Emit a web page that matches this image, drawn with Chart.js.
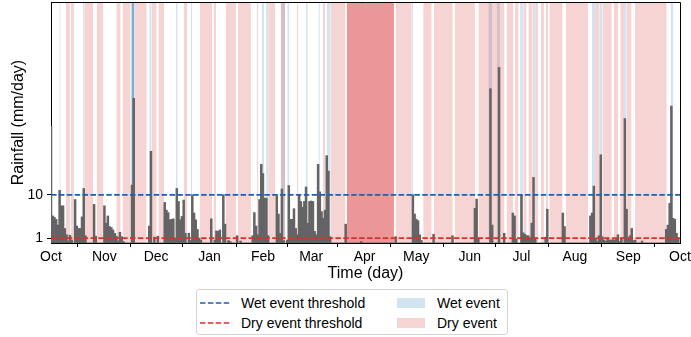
<!DOCTYPE html>
<html>
<head>
<meta charset="utf-8">
<script src="https://cdn.jsdelivr.net/npm/chart.js@4/dist/chart.umd.min.js"></script>
<style>
html,body{margin:0;padding:0;background:#fff;}
#wrap{position:relative;width:691px;height:337px;font-family:"Liberation Sans",Arial,sans-serif;overflow:hidden;}
#c{position:absolute;left:0;top:0;}
#legend{position:absolute;left:196px;top:289px;width:312px;height:46px;border:1px solid #d4d4d4;border-radius:3px;box-sizing:border-box;background:#fff;font-size:14px;color:#000;}
#legend .t{position:absolute;line-height:16px;white-space:nowrap;}
#legend svg{position:absolute;}
#legend .p{position:absolute;width:28px;height:10px;}
</style>
</head>
<body>
<div id="wrap">
<canvas id="c" width="691" height="337"></canvas>
<div id="legend"></div>
</div>
<script>
// ---- axis ticks ----
const monthStartDays = [0,31,61,92,123,151,182,212,243,273,304,335,365];
const monthLabels = ['Oct','Nov','Dec','Jan','Feb','Mar','Apr','May','Jun','Jul','Aug','Sep','Oct'];
const yTickValues = [1,10];

// ---- thresholds (mm/day) ----
const wetThreshold = 10;
const dryThreshold = 1;

// ---- daily rainfall (mm/day), one array per month ----
const rainOct = [24.2,5.6,5.3,4.9,3.7,10.9,7.7,7.7,3.0,1.7, 0.4,1.6,0.6,0,9.0,3.5,3.0,3.0,5.4,11.3, 1.5,0,0,0,0,8.0,1.4,0,0,0, 0];
const rainNov = [7.7,4.1,5.6,3.4,3.2,2.7,2.0,1.4,0.4,2.2, 1.3,0.3,0,0,0,0,12.0,30.0,0,0, 0,0,0,0,0,0,3.5,19.0,0,1.2];
const rainDec = [0,1.4,0,0,0,8.4,6.8,6.3,4.8,4.9, 5.0,1.0,11.3,8.6,4.8,5.5,8.9,2.0,0,2.0, 0.5,10.0,6.2,4.8,2.8,1.0,0.6,0,0,0, 0];
const rainJan = [0,5.0,0,0.6,2.5,2.4,2.7,0,10.0,3.9, 0,0.5,0.3,0,0,0,1.5,0,0.4,0, 0,0,0,0,0,1.5,6.3,3.5,1.7,9.0, 16.3];
const rainFeb = [14.4,9.3,9.3,1.5,0,0,0,0,9.8,6.0, 2.0,11.2,0.5,0,0.6,11.9,4.9,4.9,7.1,3.0, 1.7,9.9,8.6,7.4,8.6,11.6,4.1,8.6];
const rainMar = [8.7,8.6,2.4,1.7,16.3,10.6,6.5,5.1,6.8,18.1, 14.9,1.3,0,0,0,0,0,0,0,0, 3.9,0,0,0,0,0,0,0,0,0.3, 0];
const rainApr = [0,0,0,0,0,0,0,0,0,0, 0,0,0,0,0,0,0,0,1.3,0, 0,0,0,0,0,0,0,0,10.0,6.0];
const rainMay = [4.9,4.6,1.7,0.5,0,0,0,0,0,0, 1.8,0,0,0,0,0,0,0,0,0, 0,1.5,0,0,0,0,0,0,0,0, 0];
const rainJun = [0,0,0,7.2,9.1,0.8,0,0,0,0, 0,0,32.0,3.7,0,0,0,36.4,0,0, 2.0,0,0,0,0,6.2,5.6,0.8,0,0];
const rainJul = [9.9,2.1,1.8,1.5,1.5,1.0,4.1,13.6,1.0,0, 0,0,0,0,1.2,7.0,0,0,0,0, 0,0,0,0,6.2,3.4,0,0,0,0, 0];
const rainAug = [0,0,0,0,0,0,0,0,0,5.6, 6.2,11.8,1.0,0.3,1.5,18.3,1.3,0.6,0.3,1.0, 0.6,0.6,0.7,0.6,1.0,1.7,0.3,1.0,0,25.8, 7.0];
const rainSep = [1.0,1.5,3.0,0.5,0.6,0,0,0,0.4,0, 0,0,0,0,0,0,0,0,0,0, 0,0,2.8,3.7,8.2,28.4,5.1,4.9,2.0,1.0];

// ---- event spans (day index since 1 Oct) ----
const wetEventStart = [4.9,18.4,46.2,46.8,46.8,46.8,57.0,72.5,81.2,122.3,124.8,133.3,137.1,148.0,155.2,160.0,209.3,253.8,258.6,272.2,279.5,313.8,318.2,332.5,359.6];
const wetEventEnd   = [5.6,19.3,48.7,48.2,48.2,48.2,58.4,73.5,81.9,123.6,126.1,135.8,138.3,149.0,156.0,162.3,210.2,256.1,260.5,274.1,280.9,315.7,320.1,334.0,361.1];
const dryEventStart = [8.7,11.6,19.3,26.5,37.9,41.6,48.7,58.4,62.3,77.0,86.3,94.3,101.3,108.5,119.4,126.0,133.3,142.6,157.7,162.3,171.6,171.6,171.6,200.0,216.0,222.2,234.4,248.0,264.4,269.3,274.1,277.0,280.9,284.2,287.1,289.2,298.8,315.7,320.1,326.7,330.3,334.0,338.9];
const dryEventEnd   = [11.0,13.3,24.5,30.3,40.4,46.2,55.5,61.3,65.7,79.0,93.5,95.8,107.4,116.0,120.3,130.1,135.8,143.5,159.0,170.6,199.0,199.0,199.0,209.3,220.9,233.1,246.0,263.1,268.3,271.3,276.0,279.5,282.8,286.1,288.4,296.9,311.7,318.2,325.4,329.2,332.5,336.9,357.3];

const rainfall = [].concat(rainOct,rainNov,rainDec,rainJan,rainFeb,rainMar,rainApr,rainMay,rainJun,rainJul,rainAug,rainSep);
const Y_MAX = 50;
const DAYS = 365;

const WET_LINE = '#1f5fae';
const DRY_LINE = '#d9302a';
const WET_FILL = 'rgba(31,119,180,0.2)';
const DRY_FILL = 'rgba(214,39,40,0.2)';
const FONT = '"Liberation Sans", Arial, sans-serif';

const spanSets = [];
function addSpans(starts, ends, color) {
  starts.forEach((s, i) => {
    spanSets.push({
      type: 'line',
      data: [{x: s, y: Y_MAX}, {x: ends[i], y: Y_MAX}],
      fill: 'origin',
      backgroundColor: color,
      borderColor: 'rgba(0,0,0,0)',
      borderWidth: 0,
      pointRadius: 0,
      order: 2
    });
  });
}
addSpans(dryEventStart, dryEventEnd, DRY_FILL);
addSpans(wetEventStart, wetEventEnd, WET_FILL);

const datasets = [
  {type:'line', label:'Wet event threshold', data:[{x:0,y:wetThreshold},{x:DAYS,y:wetThreshold}], borderColor:WET_LINE, borderWidth:1.8, borderDash:[5.5,2.4], pointRadius:0, fill:false, order:0},
  {type:'line', label:'Dry event threshold', data:[{x:0,y:dryThreshold},{x:DAYS,y:dryThreshold}], borderColor:DRY_LINE, borderWidth:1.8, borderDash:[5.5,2.4], pointRadius:0, fill:false, order:0},
  {type:'bar', label:'Rainfall', data: rainfall.map((v,i)=>({x:i, y:v})), backgroundColor:'#646464', borderWidth:0, barPercentage:1, categoryPercentage:1, inflateAmount:0.4, order:1}
].concat(spanSets);

const framePlugin = {
  id:'frame',
  afterDraw(chart){
    const {ctx, chartArea:a} = chart;
    ctx.save();
    ctx.strokeStyle = '#000';
    ctx.lineWidth = 1;
    ctx.beginPath();
    ctx.moveTo(Math.round(a.left), Math.round(a.top)+0.5);
    ctx.lineTo(Math.round(a.right)+0.5, Math.round(a.top)+0.5);
    ctx.lineTo(Math.round(a.right)+0.5, Math.round(a.bottom));
    ctx.stroke();
    ctx.restore();
  }
};

new Chart(document.getElementById('c'), {
  type:'bar',
  data:{datasets},
  plugins:[framePlugin],
  options:{
    responsive:false,
    animation:false,
    events:[],
    layout:{padding:{top:2,right:11,bottom:54,left:0}},
    plugins:{legend:{display:false}, tooltip:{enabled:false}},
    scales:{
      x:{
        type:'linear', min:0, max:DAYS, offset:false,
        afterBuildTicks: s => { s.ticks = monthStartDays.map(v=>({value:v})); },
        afterFit: s => { s.height = 40; s.paddingLeft = 0; s.paddingRight = 0; },
        ticks:{autoSkip:false, maxRotation:0, minRotation:0, padding:2, color:'#000', font:{size:14, family:FONT},
          callback:(v)=>{ const k = monthStartDays.indexOf(v); return k>=0 ? monthLabels[k] : ''; }},
        grid:{display:true, drawOnChartArea:false, drawTicks:true, tickLength:4, color:'#000', lineWidth:1},
        border:{display:true, color:'#000', width:1},
        title:{display:true, text:'Time (day)', color:'#000', font:{size:16, family:FONT}, padding:{top:0,bottom:0}}
      },
      y:{
        type:'linear', min:0, max:Y_MAX,
        afterBuildTicks: s => { s.ticks = yTickValues.map(v=>({value:v})); },
        afterFit: s => { s.width = 51; s.paddingTop = 0; s.paddingBottom = 0; },
        ticks:{padding:4, color:'#000', font:{size:14, family:FONT}},
        grid:{display:true, drawOnChartArea:false, drawTicks:true, tickLength:4, color:'#000', lineWidth:1},
        border:{display:true, color:'#000', width:1},
        title:{display:true, text:'Rainfall (mm/day)', color:'#000', font:{size:16, family:FONT}, padding:{top:9,bottom:0}}
      }
    }
  }
});

// ---- legend (HTML) ----
const legendItems = [
  {kind:'line', color:WET_LINE, label:'Wet event threshold', col:0, row:0},
  {kind:'patch', color:WET_FILL, label:'Wet event', col:1, row:0},
  {kind:'line', color:DRY_LINE, label:'Dry event threshold', col:0, row:1},
  {kind:'patch', color:DRY_FILL, label:'Dry event', col:1, row:1}
];
const lg = document.getElementById('legend');
const rowCenters = [13, 33];
const colSymbolX = [3, 200];
const colTextX = [44, 240];
legendItems.forEach(it => {
  const cy = rowCenters[it.row];
  if (it.kind === 'line') {
    const ns = 'http://www.w3.org/2000/svg';
    const svg = document.createElementNS(ns,'svg');
    svg.setAttribute('width','30'); svg.setAttribute('height','6');
    svg.style.left = colSymbolX[it.col] + 'px';
    svg.style.top = (cy - 3) + 'px';
    const ln = document.createElementNS(ns,'line');
    ln.setAttribute('x1','0'); ln.setAttribute('y1','3'); ln.setAttribute('x2','30'); ln.setAttribute('y2','3');
    ln.setAttribute('stroke', it.color); ln.setAttribute('stroke-width','1.5');
    ln.setAttribute('stroke-dasharray','5.5 2.4');
    svg.appendChild(ln);
    lg.appendChild(svg);
  } else {
    const p = document.createElement('div');
    p.className = 'p';
    p.style.left = colSymbolX[it.col] + 'px';
    p.style.top = (cy - 5) + 'px';
    p.style.background = it.color;
    lg.appendChild(p);
  }
  const t = document.createElement('span');
  t.className = 't';
  t.textContent = it.label;
  t.style.left = colTextX[it.col] + 'px';
  t.style.top = (cy - 8) + 'px';
  lg.appendChild(t);
});
</script>
</body>
</html>
